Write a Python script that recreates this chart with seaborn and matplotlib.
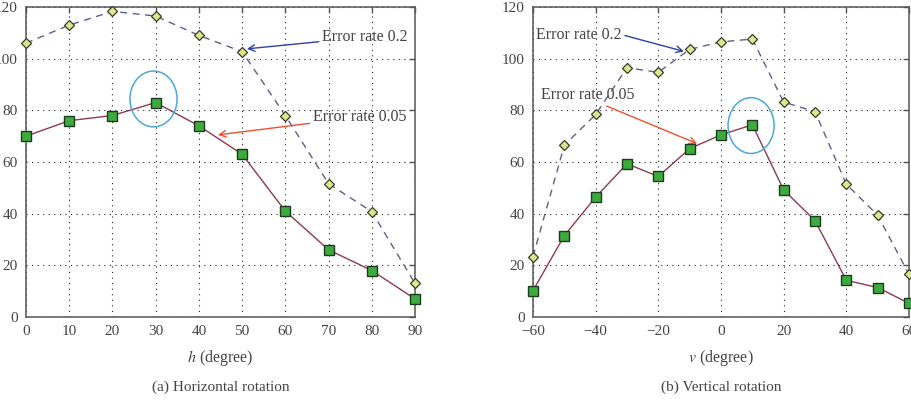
import numpy as np
import pandas as pd
import matplotlib
matplotlib.use("Agg")
import matplotlib.pyplot as plt
from matplotlib.patches import Ellipse
import seaborn as sns

# ---- data ----
h_deg = [0, 10, 20, 30, 40, 50, 60, 70, 80, 90]
h_rate005 = [70, 76, 78, 83, 74, 63, 41, 26, 18, 7]
h_rate02 = [106, 113, 118.3, 116.5, 109, 102.7, 78, 51.6, 40.8, 13]

v_deg = [-60, -50, -40, -30, -20, -10, 0, 10, 20, 30, 40, 50, 60]
v_rate005 = [10.2, 31.5, 46.4, 59.3, 54.4, 65.2, 70.5, 74.4, 49.2, 37.3, 14.2, 11.4, 5.3]
v_rate02 = [23.4, 66.5, 78.4, 96.5, 94.7, 103.6, 106.5, 107.6, 83.2, 79.5, 51.4, 39.4, 16.5]

h_ticks = [0, 10, 20, 30, 40, 50, 60, 70, 80, 90]
v_ticks = [-60, -40, -20, 0, 20, 40, 60]
y_ticks = [0, 20, 40, 60, 80, 100, 120]

sns.set_style("white")
plt.rcParams['font.family'] = ['Liberation Serif', 'DejaVu Serif']
plt.rcParams['mathtext.fontset'] = 'stix'

TXT = '#444444'
fig = plt.figure(figsize=(9.11, 4.0), dpi=100)
axL = fig.add_axes([26 / 911, 83 / 400, 389 / 911, 310 / 400])
axR = fig.add_axes([533 / 911, 83 / 400, 376 / 911, 310 / 400])

line005 = dict(color='#8E3A4E', lw=1.0, marker='s', markersize=7,
               markerfacecolor='#3DAA3D', markeredgecolor='#1E3A1E', markeredgewidth=1.0)
line02 = dict(color='#5C6088', lw=1.0, marker='D', markersize=5.5,
              markerfacecolor='#DDE88C', markeredgecolor='#3A3A2A', markeredgewidth=0.9)


def style(ax, xt, xlim, xlabel):
    ax.set_xlim(*xlim)
    ax.set_ylim(0, 120)
    ax.set_xticks(xt)
    ax.set_yticks(y_ticks)
    ax.grid(True, color='#222222', linestyle=(0, (1, 4)), linewidth=0.8)
    ax.set_axisbelow(True)
    for s in ax.spines.values():
        s.set_visible(True)
        s.set_color('#555555')
        s.set_linewidth(1.1)
    ax.tick_params(direction='in', length=4, width=1, color='#555555',
                   top=True, right=True, labelsize=11, labelcolor=TXT, pad=6)
    ax.set_xlabel(xlabel, fontsize=11.5, color=TXT, labelpad=7)
    ax.set_ylabel('')


df_h = pd.DataFrame({'deg': h_deg, 'r005': h_rate005, 'r02': h_rate02})
sns.lineplot(data=df_h, x='deg', y='r02', ax=axL, linestyle=(0, (5, 4)), **line02, zorder=3)
sns.lineplot(data=df_h, x='deg', y='r005', ax=axL, **line005, zorder=4)
style(axL, h_ticks, (0, 90), r'$h$ (degree)')

df_v = pd.DataFrame({'deg': v_deg, 'r005': v_rate005, 'r02': v_rate02})
sns.lineplot(data=df_v, x='deg', y='r02', ax=axR, linestyle=(0, (5, 4)), **line02, zorder=3)
sns.lineplot(data=df_v, x='deg', y='r005', ax=axR, **line005, zorder=4)
style(axR, v_ticks, (-60, 60), r'$v$ (degree)')

for ax in (axL, axR):
    for line in ax.lines:
        line.set_clip_on(False)

# annotations left
axL.annotate('Error rate 0.2', xy=(51.1, 103.8), xytext=(68.5, 108.3),
             fontsize=11.5, color=TXT, va='center', ha='left',
             arrowprops=dict(arrowstyle='->', color='#3040A0', lw=1.0, shrinkA=0, shrinkB=0))
axL.annotate('Error rate 0.05', xy=(44.4, 70.5), xytext=(66.4, 77.4),
             fontsize=11.5, color=TXT, va='center', ha='left',
             arrowprops=dict(arrowstyle='->', color='#F05030', lw=1.0, shrinkA=0, shrinkB=0))
axL.add_patch(Ellipse((29.5, 84.4), 10.9, 21.6, fill=False, edgecolor='#4AA8D8', lw=1.1, zorder=5))

# annotations right
axR.annotate('Error rate 0.2', xy=(-11.8, 102.8), xytext=(-59, 109.3),
             fontsize=11.5, color=TXT, va='center', ha='left',
             arrowprops=dict(arrowstyle='->', color='#3040A0', lw=1.0, shrinkA=0, shrinkB=0,
                             relpos=(1, 0.5)))
axR.annotate('Error rate 0.05', xy=(-7.6, 67.1), xytext=(-57.5, 86),
             fontsize=11.5, color=TXT, va='center', ha='left',
             arrowprops=dict(arrowstyle='->', color='#F05030', lw=1.0, shrinkA=0, shrinkB=0,
                             relpos=(0.62, 0.0)))
axR.add_patch(Ellipse((9.6, 74.1), 14.7, 21.6, fill=False, edgecolor='#4AA8D8', lw=1.1, zorder=5))

fig.text((26 + 415) / 2 / 911, 1 - 387 / 400, '(a) Horizontal rotation', ha='center', va='center',
         fontsize=11, color=TXT)
fig.text((533 + 909) / 2 / 911, 1 - 387 / 400, '(b) Vertical rotation', ha='center', va='center',
         fontsize=11, color=TXT)

fig.savefig('out.png', dpi=100)
